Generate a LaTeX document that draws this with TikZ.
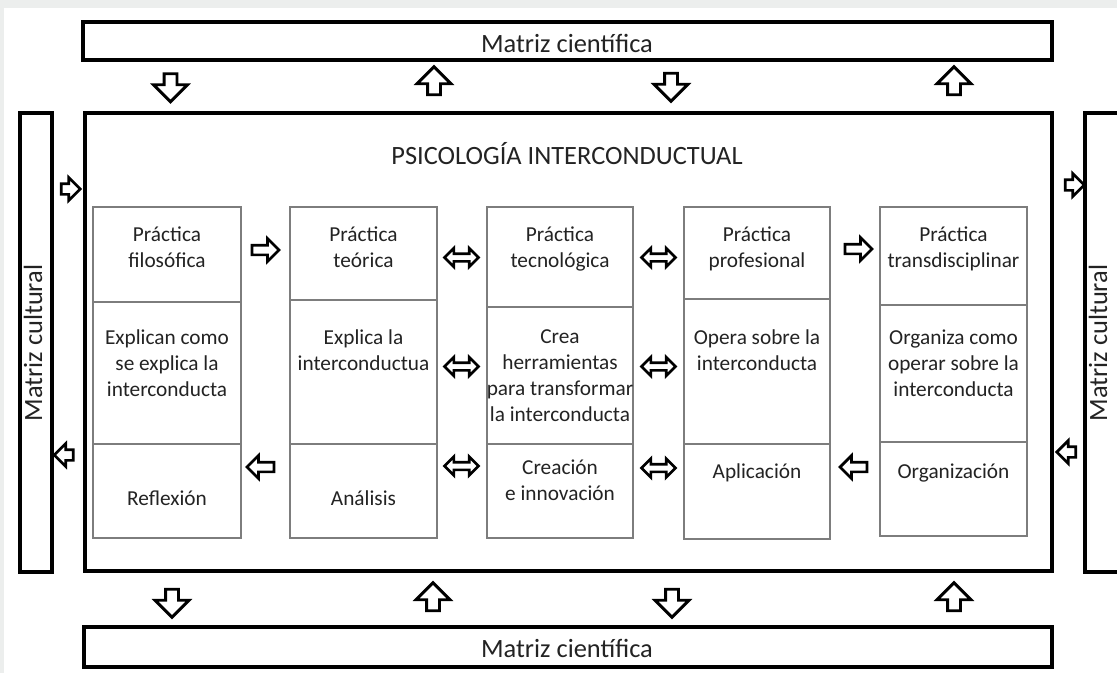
\documentclass[tikz,border=0pt]{standalone}
\usepackage{fontspec}
\setmainfont{Carlito}
\usetikzlibrary{shapes.arrows}
\definecolor{framegray}{RGB}{236,238,237}
\definecolor{cellgray}{RGB}{125,125,125}
\definecolor{txt}{RGB}{35,35,35}
\tikzset{
  bigbox/.style={draw=black, line width=3.2pt, fill=white, inner sep=0pt},
  cellbox/.style={draw=cellgray, line width=1.9pt, inner sep=0pt},
  celltext/.style={font=\fontsize{21.3}{26}\selectfont, align=center, inner sep=0pt,
    anchor=north, text=txt, execute at begin node=\strut},
  labeltext/.style={font=\fontsize{26.4}{32}\selectfont, inner sep=0pt, anchor=base, text=txt},
  blockarrow/.style={single arrow, draw=black, fill=white, line width=2.9pt,
    single arrow tip angle=90, single arrow head indent=0pt},
  vbig/.style={blockarrow, inner sep=5pt, minimum width=31pt,
    single arrow head extend=10.5pt, minimum height=28pt},
  hmid/.style={blockarrow, line width=2.7pt, inner sep=3.5pt, minimum width=20pt,
    single arrow head extend=6.5pt, minimum height=27pt},
  hside/.style={blockarrow, line width=2.7pt, inner sep=4pt, minimum width=20pt,
    single arrow head extend=6pt, minimum height=19pt},
  dbl/.style={double arrow, draw=black, fill=white, line width=2.7pt, inner sep=2.5pt,
    minimum width=16pt, double arrow head extend=5.5pt, minimum height=34pt,
    double arrow tip angle=90, double arrow head indent=0pt},
  pdown/.style={shape border rotate=270},
  pup/.style={shape border rotate=90},
  pleft/.style={shape border rotate=180},
}
\begin{document}
\begin{tikzpicture}[x=1pt,y=-1pt]
\useasboundingbox (0,0) rectangle (1117,673);
\clip (0,0) rectangle (1117,673);
\fill[framegray] (0,0) rectangle (1117,673);
\fill[white] (4,8) rectangle (1117,673);

% outer boxes
\node[bigbox, minimum width=969pt, minimum height=38pt] (mtop) at (567.5,41) {};
\node[labeltext] (mtoplabel) at (567,52) {Matriz científica};
\node[bigbox, minimum width=968pt, minimum height=40pt] (mbot) at (568,647) {};
\node[labeltext] (mbotlabel) at (567,657) {Matriz científica};
\node[bigbox, minimum width=32pt, minimum height=459pt] (mleft) at (36,342.5) {};
\node[labeltext, rotate=90] (mleftlabel) at (42,343) {Matriz cultural};
\node[bigbox, minimum width=50pt, minimum height=459pt] (mright) at (1110,342.5) {};
\node[labeltext, rotate=90] (mrightlabel) at (1107,343) {Matriz cultural};
\node[bigbox, minimum width=967pt, minimum height=458pt] (main) at (568.5,342) {};
\node[labeltext] (title) at (567,164) {PSICOLOGÍA INTERCONDUCTUAL};

% column 1
\node[cellbox, minimum width=148pt, minimum height=95pt]  (c11) at (167,254.5) {};
\node[cellbox, minimum width=148pt, minimum height=142pt] (c12) at (167,373) {};
\node[cellbox, minimum width=148pt, minimum height=94pt]  (c13) at (167,491) {};
% column 2
\node[cellbox, minimum width=147pt, minimum height=93pt]  (c21) at (363.5,253.5) {};
\node[cellbox, minimum width=147pt, minimum height=144pt] (c22) at (363.5,372) {};
\node[cellbox, minimum width=147pt, minimum height=94pt]  (c23) at (363.5,491) {};
% column 3
\node[cellbox, minimum width=146pt, minimum height=100pt] (c31) at (560,257) {};
\node[cellbox, minimum width=146pt, minimum height=137pt] (c32) at (560,375.5) {};
\node[cellbox, minimum width=146pt, minimum height=94pt]  (c33) at (560,491) {};
% column 4
\node[cellbox, minimum width=146pt, minimum height=92pt]  (c41) at (757,253) {};
\node[cellbox, minimum width=146pt, minimum height=145pt] (c42) at (757,371.5) {};
\node[cellbox, minimum width=146pt, minimum height=95pt]  (c43) at (757,491.5) {};
% column 5
\node[cellbox, minimum width=147pt, minimum height=98pt]  (c51) at (953.5,256) {};
\node[cellbox, minimum width=147pt, minimum height=137pt] (c52) at (953.5,373.5) {};
\node[cellbox, minimum width=147pt, minimum height=94pt]  (c53) at (953.5,489) {};

% cell texts
\node[celltext] (t11) at (167,226.8)   {Práctica\\filosófica};
\node[celltext] (t21) at (363.5,226.8) {Práctica\\teórica};
\node[celltext] (t31) at (560,226.8)   {Práctica\\tecnológica};
\node[celltext] (t41) at (757,226.8)   {Práctica\\profesional};
\node[celltext] (t51) at (953.5,226.8) {Práctica\\transdisciplinar};

\node[celltext] (t12) at (167,329.8)   {Explican como\\se explica la\\interconducta};
\node[celltext] (t22) at (363.5,329.8) {Explica la\\interconductua};
\node[celltext] (t32) at (560,329.8)   {Crea\\herramientas\\para transformar\\la interconducta};
\node[celltext] (t42) at (757,329.8)   {Opera sobre la\\interconducta};
\node[celltext] (t52) at (953.5,329.8) {Organiza como\\operar sobre la\\interconducta};

\node[celltext] (t13) at (167,486.8)   {Reflexión};
\node[celltext] (t23) at (363.5,486.8) {Análisis};
\node[celltext] (t33) at (560,459.8)   {Creación\\e innovación};
\node[celltext] (t43) at (757,459.8)   {Aplicación};
\node[celltext] (t53) at (953.5,459.8) {Organización};

% arrows between columns
\node[hmid] (a12r1) at (263,250) {};
\node[dbl]  (a23r1) at (461.5,257.5) {};
\node[dbl]  (a34r1) at (658.5,257.5) {};
\node[hmid] (a45r1) at (856,249) {};
\node[dbl]  (a23r2) at (461.5,366.5) {};
\node[dbl]  (a34r2) at (658.5,366.5) {};
\node[hmid, pleft] (a12r3) at (263,467) {};
\node[dbl]  (a23r3) at (461.5,466) {};
\node[dbl]  (a34r3) at (658.5,468) {};
\node[hmid, pleft] (a45r3) at (856,467) {};

% arrows top / bottom
\node[vbig, pdown] (at1) at (170.5,84.5) {};
\node[vbig, pup]   (at2) at (434,84) {};
\node[vbig, pdown] (at3) at (671,84) {};
\node[vbig, pup]   (at4) at (954,84) {};
\node[vbig, pdown] (ab1) at (172,600) {};
\node[vbig, pup]   (ab2) at (433,600) {};
\node[vbig, pdown] (ab3) at (672,600) {};
\node[vbig, pup]   (ab4) at (954,600) {};

% side arrows
\node[hside] (al1) at (68,189) {};
\node[hside, pleft] (al2) at (66.5,455) {};
\node[hside] (ar1) at (1072,185) {};
\node[hside, pleft] (ar2) at (1069,452) {};
\end{tikzpicture}
\end{document}
